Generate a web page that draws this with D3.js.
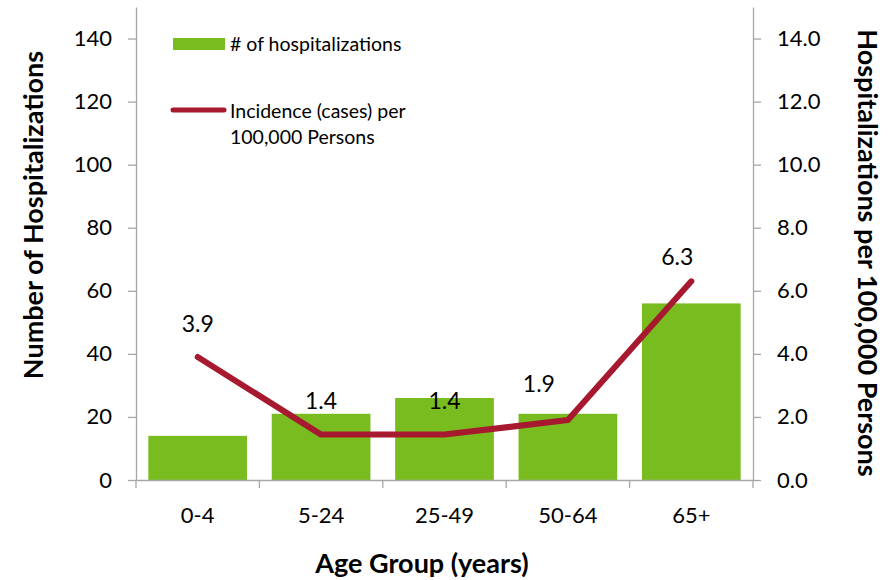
<!DOCTYPE html>
<html>
<head>
<meta charset="utf-8">
<script src="https://cdn.jsdelivr.net/npm/d3@7"></script>
<style>
	body { margin: 0; background: #fff; }
	text { font-family: Lato, "Open Sans", sans-serif; fill: #000; }
</style>
</head>
<body>
<div id="chart"></div>
<script>

// categories along the bottom
var ageGroups = ['0-4', '5-24', '25-49', '50-64', '65+'];

// # of hospitalizations (bars, left axis)
var hospitalizations = [14, 21, 26, 21, 56];

// incidence per 100,000 persons (line, right axis)
var incidence = [3.9, 1.44, 1.44, 1.9, 6.3];

var leftTicks = [0, 20, 40, 60, 80, 100, 120, 140];
var rightTicks = [0, 2, 4, 6, 8, 10, 12, 14];

var width = 894, height = 580;
var margin = { top: 7, right: 141, bottom: 100, left: 136 };

var svg = d3.select('#chart')
			.append('svg')
			.attr('width', width)
			.attr('height', height);

var x = d3.scaleBand()
		  .domain(ageGroups)
		  .range([margin.left, width - margin.right])
		  .paddingInner(0.2)
		  .paddingOuter(0.1);

var yLeft = d3.scaleLinear()
			  .domain([0, 150])
			  .range([height - margin.bottom, margin.top]);

var yRight = d3.scaleLinear()
			   .domain([0, 15])
			   .range([height - margin.bottom, margin.top]);

var axisColor = '#a6a6a6';
var green = '#78bc20';
var red = '#a6192e';

// bars
svg.append('g')
   .selectAll('rect')
   .data(hospitalizations)
   .enter()
   .append('rect')
   .attr('x', function(d, i) { return x(ageGroups[i]); })
   .attr('y', function(d) { return yLeft(d); })
   .attr('width', x.bandwidth())
   .attr('height', function(d) { return yLeft(0) - yLeft(d); })
   .attr('fill', green);

// axes
function styleAxis(g) {
	g.selectAll('path, line').attr('stroke', axisColor).attr('stroke-width', 1.3);
	g.selectAll('text').style('font-size', '22px').attr('fill', '#000');
}

svg.append('g')
   .attr('transform', 'translate(' + margin.left + ',0)')
   .call(d3.axisLeft(yLeft).tickValues(leftTicks).tickSize(8).tickSizeOuter(0).tickPadding(16))
   .call(styleAxis);

svg.append('g')
   .attr('transform', 'translate(' + (width - margin.right) + ',0)')
   .call(d3.axisRight(yRight).tickValues(rightTicks).tickFormat(d3.format('.1f')).tickSize(8).tickSizeOuter(0).tickPadding(16))
   .call(styleAxis);

var xAxis = svg.append('g')
   .attr('transform', 'translate(0,' + yLeft(0) + ')')
   .call(d3.axisBottom(x).tickSize(0).tickPadding(27))
   .call(styleAxis);

// category separators on the x axis
var step = x.step();
xAxis.selectAll('.sep')
	 .data(d3.range(ageGroups.length + 1))
	 .enter()
	 .append('line')
	 .attr('x1', function(i) { return margin.left + i * step; })
	 .attr('x2', function(i) { return margin.left + i * step; })
	 .attr('y1', 0)
	 .attr('y2', 8)
	 .attr('stroke', axisColor)
	 .attr('stroke-width', 1.3);

// incidence line
var line = d3.line()
			 .x(function(d, i) { return x(ageGroups[i]) + x.bandwidth() / 2; })
			 .y(function(d) { return yRight(d); });

svg.append('path')
   .datum(incidence)
   .attr('d', line)
   .attr('fill', 'none')
   .attr('stroke', red)
   .attr('stroke-width', 6)
   .attr('stroke-linecap', 'round')
   .attr('stroke-linejoin', 'round');

// data labels (the last two were dragged left in the original)
var nudge = [[0, -25], [0, -26], [0, -26], [-29, -28], [-14, -16]];
svg.append('g')
   .selectAll('text')
   .data(incidence)
   .enter()
   .append('text')
   .attr('x', function(d, i) { return x(ageGroups[i]) + x.bandwidth() / 2 + nudge[i][0]; })
   .attr('y', function(d, i) { return yRight(d) + nudge[i][1]; })
   .attr('text-anchor', 'middle')
   .style('font-size', '23px')
   .text(function(d) { return d3.format('.1f')(d); });

// legend
var legend = svg.append('g');
legend.append('rect')
	  .attr('x', 173).attr('y', 38)
	  .attr('width', 52).attr('height', 12)
	  .attr('fill', green);
legend.append('text')
	  .attr('x', 230).attr('y', 51)
	  .style('font-size', '19.5px')
	  .text('# of hospitalizations');
legend.append('line')
	  .attr('x1', 173).attr('x2', 224)
	  .attr('y1', 110).attr('y2', 110)
	  .attr('stroke', red)
	  .attr('stroke-width', 5)
	  .attr('stroke-linecap', 'round');
legend.append('text')
	  .attr('x', 230).attr('y', 118)
	  .style('font-size', '19.5px')
	  .text('Incidence (cases) per');
legend.append('text')
	  .attr('x', 230).attr('y', 144)
	  .style('font-size', '19.5px')
	  .text('100,000 Persons');

// axis titles
svg.append('text')
   .attr('transform', 'translate(43,' + 215 + ') rotate(-90)')
   .attr('text-anchor', 'middle')
   .style('font-size', '27px')
   .style('font-weight', 'bold')
   .text('Number of Hospitalizations');

svg.append('text')
   .attr('transform', 'translate(858,' + 253 + ') rotate(90)')
   .attr('text-anchor', 'middle')
   .style('font-size', '27px')
   .style('font-weight', 'bold')
   .text('Hospitalizations per 100,000 Persons');

svg.append('text')
   .attr('x', 422).attr('y', 573)
   .attr('text-anchor', 'middle')
   .style('font-size', '27px')
   .style('font-weight', 'bold')
   .text('Age Group (years)');

</script>
</body>
</html>
